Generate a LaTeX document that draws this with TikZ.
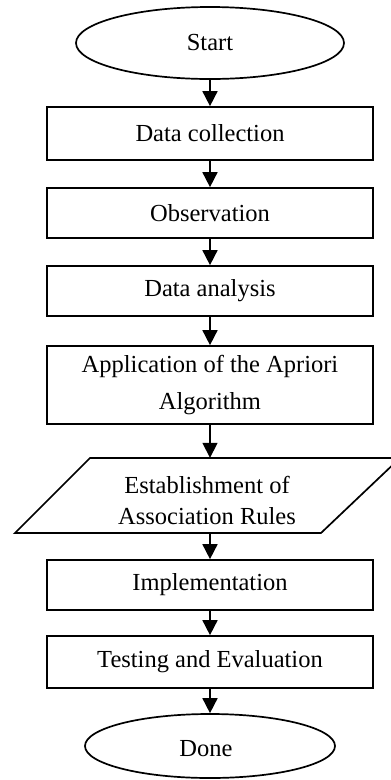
\documentclass[tikz,border=0pt]{standalone}
\usepackage{fontspec}
\setmainfont{Liberation Serif}
\usetikzlibrary{shapes.geometric,arrows.meta}
\begin{document}
\begin{tikzpicture}[x=1pt,y=1pt,
  every node/.style={font=\fontsize{24.5}{31}\selectfont, inner sep=0pt},
  stepbox/.style={draw, line width=1.7pt, minimum width=326pt, align=center},
  terminal/.style={draw, ellipse, line width=1.7pt},
  arr/.style={line width=1.7pt, -{Triangle[length=15pt,width=15pt]}},
  shape line/.style={line width=1.7pt, line join=miter}
]
\useasboundingbox (0,0) rectangle (391,-780);
\node[terminal, minimum width=268pt, minimum height=72pt] (start) at (210,-43) {Start};
\node[stepbox, minimum height=53pt] (dc) at (210,-133.5) {Data collection};
\node[stepbox, minimum height=50pt] (obs) at (210,-213) {Observation};
\node[stepbox, minimum height=50pt] (da) at (210,-291) {Data analysis};
\node[stepbox, minimum height=78pt] (app) at (210,-385) {Application of the Apriori\\[6pt]Algorithm};
\node[minimum height=75pt, align=center] (para) at (207,-495.5) {};
\node[align=center] (paratext) at (207,-500) {Establishment of\\Association Rules};
\draw[shape line] (90,-458) -- (400,-458) -- (321,-533) -- (15,-533) -- cycle;
\node[stepbox, minimum height=50pt] (impl) at (210,-585) {Implementation};
\node[stepbox, minimum height=52pt] (test) at (210,-662) {Testing and Evaluation};
\node[terminal, minimum width=250pt, minimum height=64pt] (done) at (210,-746) {};
\node (donetext) at (206,-749) {Done};
\draw[arr] (start) -- (dc);
\draw[arr] (dc) -- (obs);
\draw[arr] (obs) -- (da);
\draw[arr] (da) -- (app);
\draw[arr] (app.south) -- (app.south |- para.north);
\draw[arr] (impl.north |- para.south) -- (impl.north);
\draw[arr] (impl) -- (test);
\draw[arr] (test) -- (done);
\end{tikzpicture}
\end{document}
